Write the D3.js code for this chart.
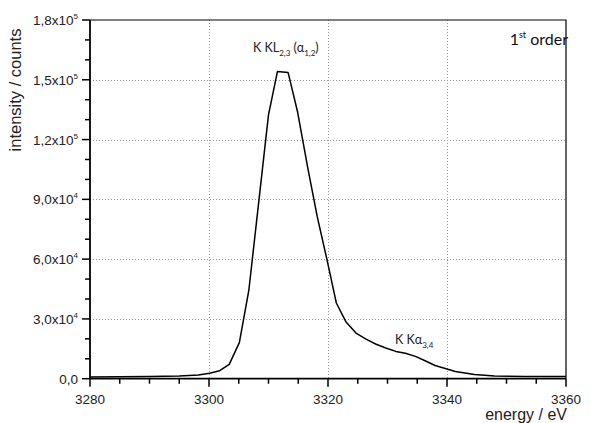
<!DOCTYPE html>
<html>
<head>
<meta charset="utf-8">
<script src="https://cdn.jsdelivr.net/npm/d3@7"></script>
<style>
  body { margin: 0; background: #fff; }
  svg { display: block; }
</style>
</head>
<body>
<svg id="chart" width="591" height="423"></svg>
<script>
"use strict";

// spectrum (energy in eV, intensity in counts)
const energy = [3280, 3285, 3290, 3295, 3298.2, 3300.1, 3301.8, 3303.4, 3305.1, 3306.7,
  3308.4, 3310.0, 3311.5, 3313.3, 3314.9, 3316.6, 3318.2, 3319.8, 3321.4, 3323.0,
  3324.7, 3326.4, 3328.0, 3329.7, 3331.4, 3333.0, 3334.7, 3336.4, 3338.0, 3339.7,
  3341.4, 3343.0, 3344.6, 3348.0, 3353.0, 3360];
const counts = [900, 1000, 1100, 1400, 1860, 2700, 4000, 7200, 18100, 44500,
  89700, 132400, 154100, 153600, 133700, 105800, 81200, 60100, 38000, 28600,
  22900, 19900, 17400, 15400, 13700, 12800, 11200, 8900, 6600, 5100,
  3600, 2900, 2100, 1400, 1100, 1100];

// axis ticks
const xTicks = [3280, 3300, 3320, 3340, 3360];
const xMinor = d3.range(3280, 3361, 5);
const yTicks = [0, 30000, 60000, 90000, 120000, 150000, 180000];
const yMantissa = ["0,0", "3,0", "6,0", "9,0", "1,2", "1,5", "1,8"];
const yExponent = ["", "4", "4", "4", "5", "5", "5"];
const yMinor = d3.range(0, 180001, 10000);

const svg = d3.select("#chart");
const plotL = 90, plotR = 566, plotT = 20, plotB = 378.7;

const x = d3.scaleLinear().domain([3280, 3360]).range([plotL, plotR]);
const y = d3.scaleLinear().domain([0, 180000]).range([plotB, plotT]);

// dotted grid
const grid = svg.append("g")
  .attr("stroke", "#999")
  .attr("stroke-width", 1)
  .attr("stroke-dasharray", "1,2");
grid.selectAll("line.gx")
  .data(xTicks.slice(1, -1))
  .enter().append("line")
  .attr("x1", d => Math.round(x(d)) + 0.5).attr("x2", d => Math.round(x(d)) + 0.5)
  .attr("y1", plotT).attr("y2", plotB);
grid.selectAll("line.gy")
  .data(yTicks.slice(1, -1))
  .enter().append("line")
  .attr("y1", d => Math.round(y(d)) + 0.5).attr("y2", d => Math.round(y(d)) + 0.5)
  .attr("x1", plotL).attr("x2", plotR);

// spectrum line
const line = d3.line()
  .x((d, i) => x(energy[i]))
  .y(d => y(d));
svg.append("path")
  .datum(counts)
  .attr("fill", "none")
  .attr("stroke", "#000")
  .attr("stroke-width", 1.5)
  .attr("stroke-linejoin", "round")
  .attr("d", line);

// frame
svg.append("path")
  .attr("fill", "none")
  .attr("stroke", "#000")
  .attr("stroke-width", 1.2)
  .attr("d", `M${plotL},${plotT}H${plotR}V${plotB}`);

// bottom axis
const xAxis = svg.append("g").attr("transform", `translate(0,${plotB})`);
xAxis.append("line").attr("x1", plotL).attr("x2", plotR)
  .attr("stroke", "#000").attr("stroke-width", 1.8);
xAxis.selectAll("line.minor")
  .data(xMinor.filter(d => !xTicks.includes(d)))
  .enter().append("line")
  .attr("x1", d => x(d)).attr("x2", d => x(d))
  .attr("y1", 0).attr("y2", 5)
  .attr("stroke", "#000").attr("stroke-width", 1.5);
xAxis.selectAll("line.major")
  .data(xTicks)
  .enter().append("line")
  .attr("x1", d => x(d)).attr("x2", d => x(d))
  .attr("y1", 0).attr("y2", 8)
  .attr("stroke", "#000").attr("stroke-width", 1.5);
xAxis.selectAll("text")
  .data(xTicks)
  .enter().append("text")
  .attr("x", d => x(d))
  .attr("y", 25)
  .attr("text-anchor", "middle")
  .attr("font-family", "Liberation Sans, Arial, sans-serif")
  .attr("font-size", 13.5)
  .attr("fill", "#222")
  .text(d => d);

// left axis
const yAxis = svg.append("g").attr("transform", `translate(${plotL},0)`);
yAxis.append("line").attr("y1", plotT).attr("y2", plotB)
  .attr("stroke", "#000").attr("stroke-width", 1.8);
yAxis.selectAll("line.minor")
  .data(yMinor.filter(d => !yTicks.includes(d)))
  .enter().append("line")
  .attr("y1", d => y(d)).attr("y2", d => y(d))
  .attr("x1", -5).attr("x2", 0)
  .attr("stroke", "#000").attr("stroke-width", 1.5);
yAxis.selectAll("line.major")
  .data(yTicks)
  .enter().append("line")
  .attr("y1", d => y(d)).attr("y2", d => y(d))
  .attr("x1", -8).attr("x2", 0)
  .attr("stroke", "#000").attr("stroke-width", 1.5);
const yLab = yAxis.selectAll("text")
  .data(yTicks)
  .enter().append("text")
  .attr("x", -12)
  .attr("y", d => y(d) + 5)
  .attr("text-anchor", "end")
  .attr("font-family", "Liberation Sans, Arial, sans-serif")
  .attr("font-size", 13.5)
  .attr("fill", "#222");
yLab.append("tspan").text((d, i) => yMantissa[i] + (yExponent[i] ? "x10" : ""));
yLab.filter((d, i) => yExponent[i] !== "")
  .append("tspan")
  .attr("dy", -6)
  .attr("font-size", 8)
  .text(d => yExponent[yTicks.indexOf(d)]);

// axis titles
svg.append("text")
  .attr("x", 567).attr("y", 420)
  .attr("text-anchor", "end")
  .attr("font-family", "Liberation Sans, Arial, sans-serif")
  .attr("font-size", 16)
  .attr("fill", "#222")
  .text("energy / eV");
svg.append("text")
  .attr("transform", "translate(21,90) rotate(-90)")
  .attr("text-anchor", "middle")
  .attr("font-family", "Liberation Sans, Arial, sans-serif")
  .attr("font-size", 16.5)
  .attr("fill", "#222")
  .text("intensity / counts");

// annotations
const ann = "Lato, 'Open Sans', sans-serif";
const a1 = svg.append("text")
  .attr("x", 253).attr("y", 52)
  .attr("font-family", ann).attr("font-size", 12.5).attr("fill", "#222");
a1.append("tspan").text("K KL");
a1.append("tspan").attr("dy", 4).attr("font-size", 8).text("2,3");
a1.append("tspan").attr("dy", -4).text(" (α");
a1.append("tspan").attr("dy", 4).attr("font-size", 8).text("1,2");
a1.append("tspan").attr("dy", -4).text(")");

const a2 = svg.append("text")
  .attr("x", 395).attr("y", 344)
  .attr("font-family", ann).attr("font-size", 12.5).attr("fill", "#222");
a2.append("tspan").text("K Kα");
a2.append("tspan").attr("dy", 4).attr("font-size", 8).text("3,4");

const a3 = svg.append("text")
  .attr("x", 568).attr("y", 45)
  .attr("text-anchor", "end")
  .attr("font-family", ann).attr("font-size", 16).attr("fill", "#111");
a3.append("tspan").text("1");
a3.append("tspan").attr("dy", -7).attr("font-size", 9).text("st");
a3.append("tspan").attr("dy", 7).text(" order");
</script>
</body>
</html>
